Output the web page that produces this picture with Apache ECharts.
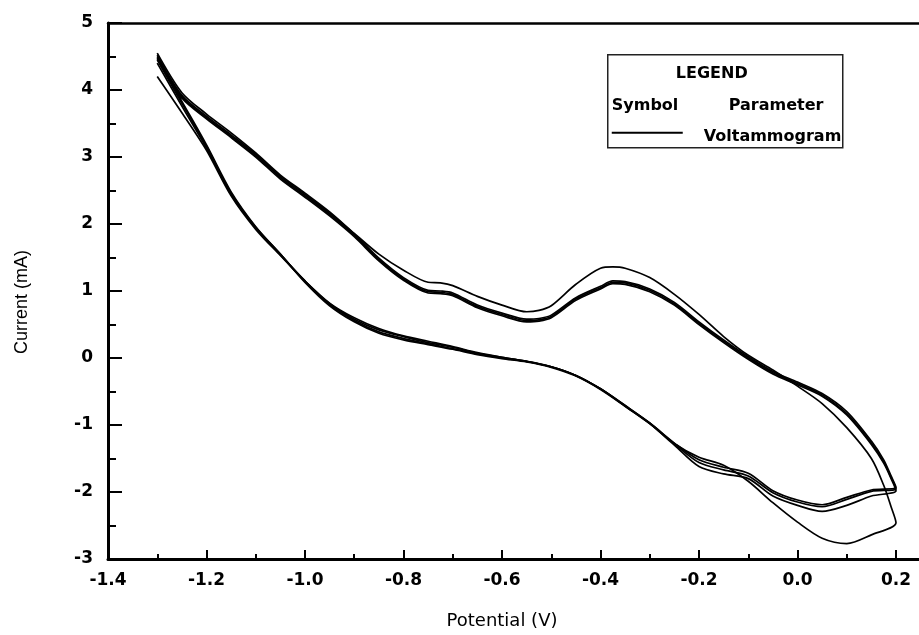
<!DOCTYPE html>
<html>
<head>
<meta charset="utf-8">
<script src="https://cdn.jsdelivr.net/npm/echarts@6/dist/echarts.min.js"></script>
<style>
  html, body { margin: 0; padding: 0; background: #fff; }
  #chart { width: 919px; height: 635px; }
</style>
</head>
<body>
<div id="chart"></div>
<script>
// Potential steps (V) of the cathodic sweep, -1.3 V -> 0.2 V
const forwardPotential = [-1.30, -1.25, -1.20, -1.15, -1.10, -1.05, -1.00, -0.95, -0.90, -0.85,
  -0.80, -0.75, -0.70, -0.65, -0.60, -0.55, -0.50, -0.45, -0.40, -0.35,
  -0.30, -0.25, -0.20, -0.15, -0.10, -0.05, 0.00, 0.05, 0.10, 0.15, 0.20];

// Potential steps (V) of the return sweep, 0.2 V -> -1.3 V
const reversePotential = [0.19, 0.175, 0.15, 0.10, 0.05, 0.00, -0.05, -0.10, -0.15, -0.20,
  -0.25, -0.30, -0.35, -0.375, -0.40, -0.45, -0.50, -0.525, -0.55, -0.60,
  -0.65, -0.70, -0.725, -0.75, -0.80, -0.85, -0.90, -0.95, -1.00, -1.05,
  -1.10, -1.15, -1.20, -1.25, -1.30];

// Current (mA), one array per cycle and sweep direction
const cycle1Forward = [4.20, 3.66, 3.10, 2.42, 1.92, 1.53, 1.15, 0.82, 0.60, 0.44,
  0.33, 0.25, 0.17, 0.08, 0.01, -0.05, -0.13, -0.26, -0.46, -0.72,
  -0.98, -1.28, -1.48, -1.60, -1.84, -2.16, -2.45, -2.69, -2.77, -2.64, -2.46];
const cycle1Reverse = [-2.22, -1.90, -1.50, -1.04, -0.68, -0.42, -0.18, 0.04, 0.32, 0.65,
  0.95, 1.20, 1.34, 1.36, 1.34, 1.10, 0.78, 0.71, 0.69, 0.79,
  0.92, 1.08, 1.12, 1.13, 1.31, 1.55, 1.86, 2.18, 2.46, 2.73,
  3.06, 3.36, 3.64, 3.96, 4.55];

const cycle2Forward = [4.40, 3.76, 3.13, 2.44, 1.94, 1.54, 1.15, 0.81, 0.58, 0.42,
  0.32, 0.23, 0.16, 0.07, 0.01, -0.05, -0.13, -0.26, -0.46, -0.71,
  -0.97, -1.27, -1.52, -1.63, -1.72, -1.98, -2.12, -2.19, -2.08, -1.97, -1.93];
const cycle2Reverse = [-1.76, -1.52, -1.24, -0.80, -0.53, -0.36, -0.20, 0.02, 0.27, 0.54,
  0.83, 1.03, 1.14, 1.15, 1.07, 0.90, 0.64, 0.59, 0.58, 0.67,
  0.79, 0.97, 1.00, 1.01, 1.20, 1.49, 1.85, 2.16, 2.44, 2.71,
  3.04, 3.33, 3.61, 3.92, 4.52];

const cycle3Forward = [4.45, 3.80, 3.16, 2.46, 1.95, 1.55, 1.14, 0.80, 0.56, 0.39,
  0.29, 0.21, 0.14, 0.06, 0.00, -0.05, -0.13, -0.26, -0.46, -0.71,
  -0.97, -1.28, -1.56, -1.67, -1.76, -2.01, -2.15, -2.22, -2.11, -1.99, -1.95];
const cycle3Reverse = [-1.78, -1.55, -1.27, -0.83, -0.55, -0.38, -0.22, 0.00, 0.25, 0.52,
  0.81, 1.01, 1.12, 1.13, 1.05, 0.88, 0.62, 0.57, 0.56, 0.65,
  0.77, 0.95, 0.98, 0.99, 1.18, 1.47, 1.83, 2.14, 2.42, 2.69,
  3.02, 3.31, 3.59, 3.90, 4.50];

const cycle4Forward = [4.48, 3.83, 3.18, 2.48, 1.96, 1.55, 1.13, 0.78, 0.54, 0.37,
  0.27, 0.20, 0.13, 0.05, -0.01, -0.06, -0.14, -0.27, -0.47, -0.72,
  -0.98, -1.30, -1.62, -1.73, -1.80, -2.06, -2.20, -2.29, -2.20, -2.06, -1.98];
const cycle4Reverse = [-1.80, -1.57, -1.29, -0.85, -0.57, -0.40, -0.24, -0.02, 0.23, 0.50,
  0.79, 0.99, 1.10, 1.11, 1.03, 0.86, 0.60, 0.55, 0.54, 0.63,
  0.75, 0.93, 0.96, 0.97, 1.16, 1.45, 1.81, 2.12, 2.40, 2.67,
  3.00, 3.29, 3.57, 3.88, 4.47];

const cycles = [
  [cycle1Forward, cycle1Reverse],
  [cycle2Forward, cycle2Reverse],
  [cycle3Forward, cycle3Reverse],
  [cycle4Forward, cycle4Reverse]
];

// Axis ranges
const potentialRange = { min: -1.4, max: 0.2, step: 0.2 };
const currentRange = { min: -3, max: 5, step: 1 };

function toPairs(xs, ys) {
  return xs.map(function (x, i) { return [x, ys[i]]; });
}

const chart = echarts.init(document.getElementById('chart'), null, { renderer: 'canvas' });

const tickFont = { color: '#000', fontFamily: 'DejaVu Sans', fontWeight: 'bold', fontSize: 17 };

const option = {
  animation: false,
  backgroundColor: '#fff',
  grid: [
    { left: 108, right: 23, top: 23, bottom: 76 },
    { left: 108, right: 0, top: 23, bottom: 76 }
  ],
  xAxis: [
    {
      type: 'value', gridIndex: 0, position: 'bottom',
      min: potentialRange.min, max: potentialRange.max, interval: potentialRange.step,
      axisLine: { show: false, onZero: false },
      axisTick: { inside: true, length: 9, lineStyle: { color: '#000', width: 2 } },
      minorTick: { show: true, splitNumber: 2, length: 5, lineStyle: { color: '#000', width: 2 } },
      splitLine: { show: false },
      axisLabel: Object.assign({
        margin: 13,
        formatter: function (v) { return (Math.abs(v) < 1e-9 ? 0 : v).toFixed(1); }
      }, tickFont),
      name: 'Potential (V)', nameLocation: 'middle', nameGap: 53,
      nameTextStyle: { color: '#000', fontFamily: 'DejaVu Sans', fontSize: 18 }
    },
    {
      type: 'value', gridIndex: 1, position: 'bottom', min: 0, max: 1,
      axisLine: { show: true, onZero: false, lineStyle: { color: '#000', width: 3 } },
      axisTick: { show: false }, axisLabel: { show: false }, splitLine: { show: false }
    },
    {
      type: 'value', gridIndex: 1, position: 'top', min: 0, max: 1,
      axisLine: { show: true, onZero: false, lineStyle: { color: '#000', width: 2.5 } },
      axisTick: { show: false }, axisLabel: { show: false }, splitLine: { show: false }
    }
  ],
  yAxis: [
    {
      type: 'value', gridIndex: 0, position: 'left',
      min: currentRange.min, max: currentRange.max, interval: currentRange.step,
      axisLine: { show: true, onZero: false, lineStyle: { color: '#000', width: 3 } },
      axisTick: { inside: true, length: 14, lineStyle: { color: '#000', width: 2 } },
      minorTick: { show: true, splitNumber: 2, length: 8, lineStyle: { color: '#000', width: 2 } },
      splitLine: { show: false },
      axisLabel: Object.assign({ margin: 15 }, tickFont)
    },
    {
      type: 'value', gridIndex: 1, show: false, min: 0, max: 1
    }
  ],
  series: cycles.map(function (c) {
    return {
      name: 'Voltammogram',
      type: 'line',
      xAxisIndex: 0, yAxisIndex: 0,
      data: toPairs(forwardPotential, c[0]).concat(toPairs(reversePotential, c[1])),
      showSymbol: false,
      symbol: 'none',
      smooth: 0.3,
      clip: false,
      silent: true,
      lineStyle: { color: '#000', width: 1.7 },
      z: 3
    };
  }),
  graphic: [
    {
      type: 'text', x: 22, y: 302, rotation: Math.PI / 2,
      style: {
        text: 'Current (mA)', fill: '#000',
        font: '18px "Liberation Sans", Arial, sans-serif',
        align: 'center', verticalAlign: 'middle'
      }
    },
    {
      type: 'group', left: 607, top: 54,
      children: [
        {
          type: 'rect', shape: { x: 0, y: 0, width: 235, height: 93 },
          style: { fill: '#fff', stroke: '#222', lineWidth: 1.5 }
        },
        {
          type: 'text', x: 104, y: 19,
          style: { text: 'LEGEND', fill: '#000', font: 'bold 16px "DejaVu Sans"', align: 'center', verticalAlign: 'middle' }
        },
        {
          type: 'text', x: 4, y: 51,
          style: { text: 'Symbol', fill: '#000', font: 'bold 16px "DejaVu Sans"', align: 'left', verticalAlign: 'middle' }
        },
        {
          type: 'text', x: 121, y: 51,
          style: { text: 'Parameter', fill: '#000', font: 'bold 16px "DejaVu Sans"', align: 'left', verticalAlign: 'middle' }
        },
        {
          type: 'line', shape: { x1: 4, y1: 78, x2: 75, y2: 78 },
          style: { stroke: '#000', lineWidth: 2.2 }
        },
        {
          type: 'text', x: 96, y: 82,
          style: { text: 'Voltammogram', fill: '#000', font: 'bold 16px "DejaVu Sans"', align: 'left', verticalAlign: 'middle' }
        }
      ]
    }
  ]
};

chart.setOption(option);
</script>
</body>
</html>
